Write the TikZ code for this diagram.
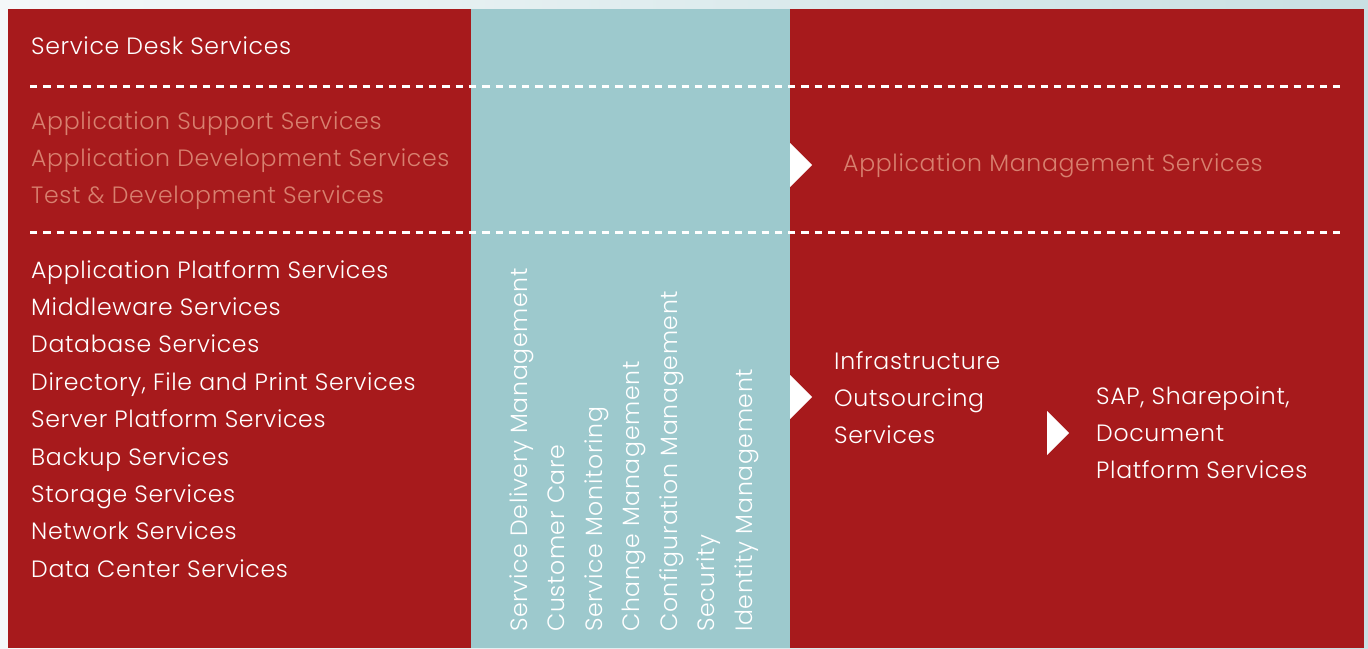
\documentclass[tikz,border=0pt]{standalone}
\usepackage{fontspec}
\setmainfont{Poppins Light}[LetterSpace=2.8]
\definecolor{bgred}{HTML}{A71A1C}
\definecolor{bgteal}{HTML}{9DC9CD}
\definecolor{faded}{HTML}{D8806F}
\definecolor{paleL}{HTML}{F4F8F9}
\definecolor{paleR}{HTML}{C9E0E3}
\tikzset{
  txt/.style={anchor=base west, inner sep=0pt, text=white, font=\fontsize{23.6}{28}\selectfont},
  fadedtxt/.style={txt, text=faded},
  vtxt/.style={txt, rotate=90},
  sep/.style={draw=white, line width=3pt, dash pattern=on 7.3pt off 6pt},
  tri/.style={fill=white}
}
\begin{document}
\begin{tikzpicture}[x=1pt,y=-1pt]
\useasboundingbox (0,0) rectangle (1368,648);
\shade[left color=paleL, right color=paleR] (0,0) rectangle (1368,648);
\fill[bgred] (8,9) rectangle (1364,648);
\fill[bgteal] (471,9) rectangle (790,648);
\draw[sep] (30,86) -- (1340,86);
\draw[sep] (30,232.3) -- (1340,232.3);
% left column
\node[txt] (sd) at (31,54) {Service Desk Services};
\node[fadedtxt] (as) at (31,129) {Application Support Services};
\node[fadedtxt] (ad) at (31,166) {Application Development Services};
\node[fadedtxt] (td) at (31,203.5) {Test \& Development Services};
\node[txt] (l1) at (31,278) {Application Platform Services};
\node[txt] (l2) at (31,315.4) {Middleware Services};
\node[txt] (l3) at (31,352.8) {Database Services};
\node[txt] (l4) at (31,390.2) {Directory, File and Print Services};
\node[txt] (l5) at (31,427.6) {Server Platform Services};
\node[txt] (l6) at (31,465) {Backup Services};
\node[txt] (l7) at (31,502.4) {Storage Services};
\node[txt] (l8) at (31,539.8) {Network Services};
\node[txt] (l9) at (31,577.2) {Data Center Services};
% vertical column
\node[vtxt] (v1) at (527,632) {Service Delivery Management};
\node[vtxt] (v2) at (564.5,632) {Customer Care};
\node[vtxt] (v3) at (602,632) {Service Monitoring};
\node[vtxt] (v4) at (639.5,632) {Change Management};
\node[vtxt] (v5) at (677,632) {Configuration Management};
\node[vtxt] (v6) at (714.5,632) {Security};
\node[vtxt] (v7) at (752,632) {Identity Management};
% right side
\fill[tri] (790,143) -- (812,165) -- (790,187) -- cycle;
\node[fadedtxt] (am) at (843,171.3) {Application Management Services};
\fill[tri] (790,375) -- (812,397) -- (790,419) -- cycle;
\node[txt] (io1) at (834,369.6) {Infrastructure};
\node[txt] (io2) at (834,406.8) {Outsourcing};
\node[txt] (io3) at (834,443.8) {Services};
\fill[tri] (1047,411) -- (1069,433) -- (1047,455) -- cycle;
\node[txt] (sp1) at (1096,404.6) {SAP, Sharepoint,};
\node[txt] (sp2) at (1096,441.6) {Document};
\node[txt] (sp3) at (1096,478.6) {Platform Services};
\end{tikzpicture}
\end{document}
